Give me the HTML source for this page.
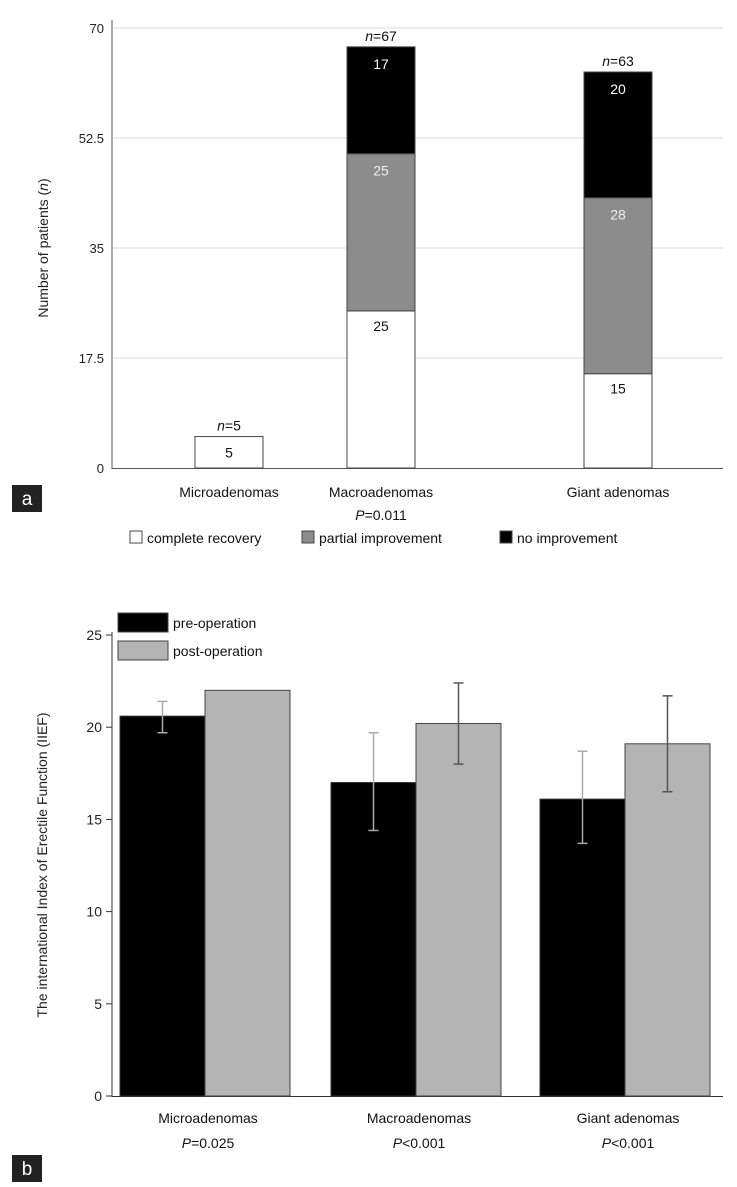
<!DOCTYPE html>
<html><head><meta charset="utf-8"><style>
body{margin:0;background:#fff;font-family:"Liberation Sans",Arial,sans-serif}
svg{display:block}
</style></head><body>
<svg id="chart" width="737" height="1187" viewBox="0 0 737 1187" xmlns="http://www.w3.org/2000/svg" font-family="Liberation Sans, Arial, sans-serif">
<g id="pa"></g>
<g id="pb"></g>
</svg>
<script>
// Panel a data
const aCats = ["Microadenomas","Macroadenomas","Giant adenomas"];
const aComplete = [5,25,15];
const aPartial = [0,25,28];
const aNone = [0,17,20];
const aTotals = [5,67,63];
const aTicks = ["0","17.5","35","52.5","70"];
const aTickVals = [0,17.5,35,52.5,70];
const aPvals = ["","P=0.011",""];
// Panel b data
const bCats = ["Microadenomas","Macroadenomas","Giant adenomas"];
const bPre = [20.6,17.0,16.1];
const bPost = [22.0,20.2,19.1];
const bPreLo = [19.7,14.4,13.7];
const bPreHi = [21.4,19.7,18.7];
const bPostLo = [22.0,18.0,16.5];
const bPostHi = [22.0,22.4,21.7];
const bTickVals = [0,5,10,15,20,25];
const bPvals = ["0.025","<0.001","<0.001"];

const NS="http://www.w3.org/2000/svg";
function mk(parent,tag,attrs,text){const e=document.createElementNS(NS,tag);for(const k in attrs)e.setAttribute(k,attrs[k]);if(text!==undefined)e.textContent=text;parent.appendChild(e);return e;}

// ---- Panel a
const pa=document.getElementById('pa');
const ay=v=>468-v*(440/70);
const aCx=[229,381,618], aW=68;
aTickVals.forEach((v,i)=>{
  if(v>0){const g=mk(pa,'line',{x1:113,x2:723,y1:ay(v),y2:ay(v),stroke:'#d8d8d8','stroke-width':1});
  }
  const t=mk(pa,'text',{x:104,y:ay(v)+5,'text-anchor':'end','font-size':13,fill:'#222'},aTicks[i]);
  
});
{const l=mk(pa,'line',{x1:112,x2:112,y1:20,y2:469,stroke:'#555','stroke-width':1});
const l2=mk(pa,'line',{x1:112,x2:723,y1:468.5,y2:468.5,stroke:'#555','stroke-width':1});}
const yl=mk(pa,'text',{x:0,y:0,transform:'translate(48,248) rotate(-90)','text-anchor':'middle','font-size':14,fill:'#222'});
yl.innerHTML='Number of patients (<tspan font-style="italic">n</tspan>)';

aCats.forEach((c,i)=>{
  const x=aCx[i]-aW/2;
  const segs=[[0,aComplete[i],'#fff','#111'],[aComplete[i],aComplete[i]+aPartial[i],'#8c8c8c','#eee'],[aComplete[i]+aPartial[i],aComplete[i]+aPartial[i]+aNone[i],'#000','#fff']];
  const vals=[aComplete[i],aPartial[i],aNone[i]];
  const nm=['complete','partial','none'];
  segs.forEach((s,j)=>{
    if(vals[j]<=0)return;
    const r=mk(pa,'rect',{x:x,y:ay(s[1]),width:aW,height:ay(s[0])-ay(s[1]),fill:s[2],stroke:'#444','stroke-width':1});
    
    const t=mk(pa,'text',{x:aCx[i],y:(j==0?(ay(s[0])+ay(s[1]))/2+5:ay(s[1])+22),'text-anchor':'middle','font-size':14,fill:s[3]},vals[j]);
    if(j==0&&i>0)t.setAttribute('y',ay(s[1])+20);
    
  });
  const tot=mk(pa,'text',{x:aCx[i],y:ay(aTotals[i])-6,'text-anchor':'middle','font-size':14,fill:'#111'});
  tot.innerHTML='<tspan font-style="italic">n</tspan>='+aTotals[i];
  
  const xl=mk(pa,'text',{x:aCx[i],y:497,'text-anchor':'middle','font-size':14,fill:'#111'},c);
  
  if(aPvals[i]){const p=mk(pa,'text',{x:aCx[i],y:520,'text-anchor':'middle','font-size':14,fill:'#111'});
  p.innerHTML='<tspan font-style="italic">P</tspan>'+aPvals[i].slice(1);
  }
});
{const b=mk(pa,'rect',{x:12,y:485,width:30,height:27,fill:'#222'});
const t=mk(pa,'text',{x:27,y:505,'text-anchor':'middle','font-size':19,fill:'#fff'},'a');}
[[130,'#fff','complete recovery'],[302,'#8c8c8c','partial improvement'],[500,'#000','no improvement']].forEach(l=>{
  const r=mk(pa,'rect',{x:l[0],y:531,width:12,height:12,fill:l[1],stroke:'#444'});
  const t=mk(pa,'text',{x:l[0]+17,y:543,'font-size':14,fill:'#111'},l[2]);
});

// ---- Panel b
const pb=document.getElementById('pb');
const by=v=>1096-v*(461/25);
const bCx=[205,416,625], bW=85;
bTickVals.forEach(v=>{
  const tk=mk(pb,'line',{x1:106,x2:112,y1:by(v),y2:by(v),stroke:'#333'});
  const t=mk(pb,'text',{x:102,y:by(v)+5,'text-anchor':'end','font-size':14,fill:'#222'},v);
  
});
{const l=mk(pb,'line',{x1:112,x2:112,y1:632,y2:1097,stroke:'#333'});
const l2=mk(pb,'line',{x1:112,x2:723,y1:1096.5,y2:1096.5,stroke:'#333'});}
const yl2=mk(pb,'text',{x:0,y:0,transform:'translate(47,865) rotate(-90)','text-anchor':'middle','font-size':14,fill:'#222'},'The international Index of Erectile Function (IIEF)');

function errbar(cx,lo,hi,col){
  const g=mk(pb,'g',{stroke:col,'stroke-width':1.5});
  
  mk(g,'line',{x1:cx,x2:cx,y1:by(hi),y2:by(lo)});
  mk(g,'line',{x1:cx-5,x2:cx+5,y1:by(hi),y2:by(hi)});
  mk(g,'line',{x1:cx-5,x2:cx+5,y1:by(lo),y2:by(lo)});
}
bCats.forEach((c,i)=>{
  const r1=mk(pb,'rect',{x:bCx[i]-bW,y:by(bPre[i]),width:bW,height:by(0)-by(bPre[i]),fill:'#000',stroke:'#333'});
  
  const r2=mk(pb,'rect',{x:bCx[i],y:by(bPost[i]),width:bW,height:by(0)-by(bPost[i]),fill:'#b4b4b4',stroke:'#444'});
  
  errbar(bCx[i]-bW/2,bPreLo[i],bPreHi[i],'#aaa');
  if(bPostHi[i]>bPostLo[i])errbar(bCx[i]+bW/2,bPostLo[i],bPostHi[i],'#555');
  const xl=mk(pb,'text',{x:bCx[i]+3,y:1123,'text-anchor':'middle','font-size':14,fill:'#111'},c);
  
  const p=mk(pb,'text',{x:bCx[i]+3,y:1148,'text-anchor':'middle','font-size':14,fill:'#111'});
  p.innerHTML='<tspan font-style="italic">P</tspan>'+(bPvals[i][0]=='<'?'&lt;'+bPvals[i].slice(1):'='+bPvals[i]);
  
});
[[613,'#000','pre-operation'],[641,'#b4b4b4','post-operation']].forEach(l=>{
  const r=mk(pb,'rect',{x:118,y:l[0],width:50,height:19,fill:l[1],stroke:'#444'});
  const t=mk(pb,'text',{x:173,y:l[0]+15,'font-size':14,fill:'#111'},l[2]);
});
{const b=mk(pb,'rect',{x:12,y:1155,width:30,height:27,fill:'#222'});
const t=mk(pb,'text',{x:27,y:1175,'text-anchor':'middle','font-size':19,fill:'#fff'},'b');}
</script>
</body></html>
